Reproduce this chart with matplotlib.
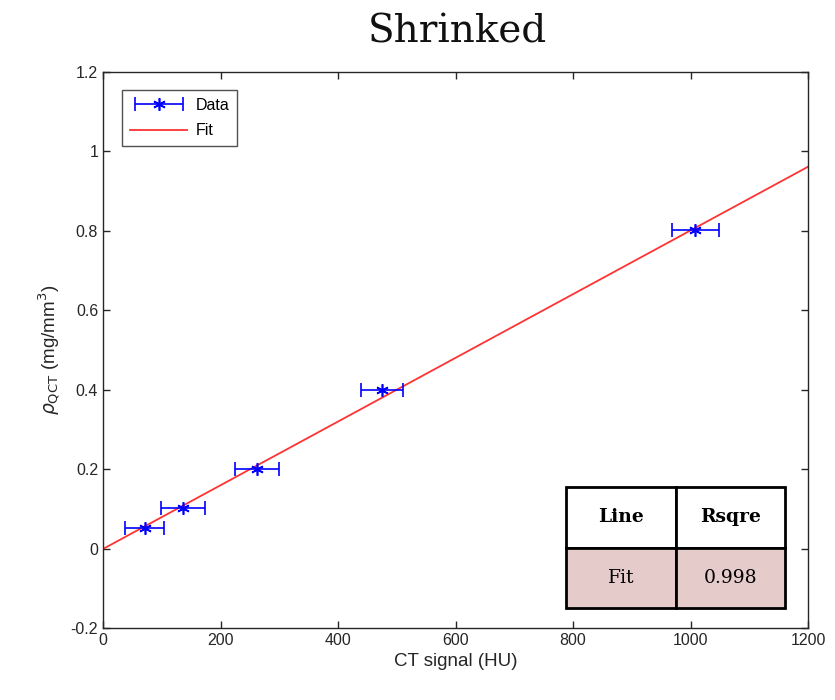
import matplotlib
matplotlib.use("Agg")
import matplotlib.pyplot as plt
from matplotlib.legend_handler import HandlerErrorbar
import numpy as np

# Data
ct_signal = [71, 136, 262, 475, 1008]
ct_err = [33, 37, 37, 36, 40]
rho_qct = [0.053, 0.103, 0.200, 0.400, 0.803]
fit_slope = 0.000802
fit_intercept = -0.001
fit_x = [0, 1200]
table_header = ["Line", "Rsqre"]
table_row = ["Fit", "0.998"]
xticks = [0, 200, 400, 600, 800, 1000, 1200]
yticks = [-0.2, 0, 0.2, 0.4, 0.6, 0.8, 1.0, 1.2]
ytick_labels = ["-0.2", "0", "0.2", "0.4", "0.6", "0.8", "1", "1.2"]

plt.rcParams['font.family'] = ['Liberation Sans', 'DejaVu Sans']

fig = plt.figure(figsize=(8.35, 7.0), dpi=100)
ax = fig.add_axes([103/835, 1-628/700, 705/835, 556/700])

eb = ax.errorbar(ct_signal, rho_qct, xerr=ct_err, linestyle='none', marker=(6, 2, 0),
                 markersize=9, color='#0000ff', markeredgewidth=1.2,
                 ecolor='#0000ff', elinewidth=1.2, capsize=5, capthick=1.2,
                 label='Data', zorder=3)
fx = np.array(fit_x, dtype=float)
fl, = ax.plot(fx, fit_slope*fx + fit_intercept, color='#ff3333', lw=1.3,
              label='Fit', zorder=2)

ax.set_xlim(0, 1200)
ax.set_ylim(-0.2, 1.2)
ax.set_xticks(xticks)
ax.set_yticks(yticks)
ax.set_yticklabels(ytick_labels)
ax.tick_params(direction='in', top=True, right=True, labelsize=11.5,
               colors='#262626', length=5, width=1)
for s in ax.spines.values():
    s.set_color('#262626')
    s.set_linewidth(1)

ax.set_xlabel('CT signal (HU)', fontsize=13.5, color='#262626', labelpad=4)
ax.set_ylabel(r'$\rho_{\mathrm{QCT}}$ (mg/mm$^3$)', fontsize=13.5, color='#262626', labelpad=6)

fig.text(0.548, 1-32/700, 'Shrinked', ha='center', va='center',
         fontsize=28, family=['DejaVu Serif'], color='#111111')

leg = ax.legend([eb, fl], ['Data', 'Fit'], loc='upper left',
                bbox_to_anchor=((122-103)/705, (628-90)/556), borderaxespad=0,
                fontsize=11.5,
                handler_map={type(eb): HandlerErrorbar(xerr_size=1.5)},
                frameon=True, fancybox=False, edgecolor='#262626',
                borderpad=0.5, handlelength=3.6, handletextpad=0.5,
                labelspacing=0.65)
leg.get_frame().set_linewidth(1)

tbl = ax.table(cellText=[table_header, table_row],
               bbox=[(566-103)/705, (628-608)/556, (785-566)/705, 121/556],
               cellLoc='center', zorder=5)
tbl.auto_set_font_size(False)
for (r, c), cell in tbl.get_celld().items():
    cell.set_linewidth(2)
    cell.set_edgecolor('black')
    cell.get_text().set_fontfamily('DejaVu Serif')
    cell.get_text().set_fontsize(13.5)
    if r == 0:
        cell.set_facecolor('white')
        cell.get_text().set_fontweight('bold')
    else:
        cell.set_facecolor('#e6cbcb')

fig.savefig('out.png', dpi=100, facecolor='white')
